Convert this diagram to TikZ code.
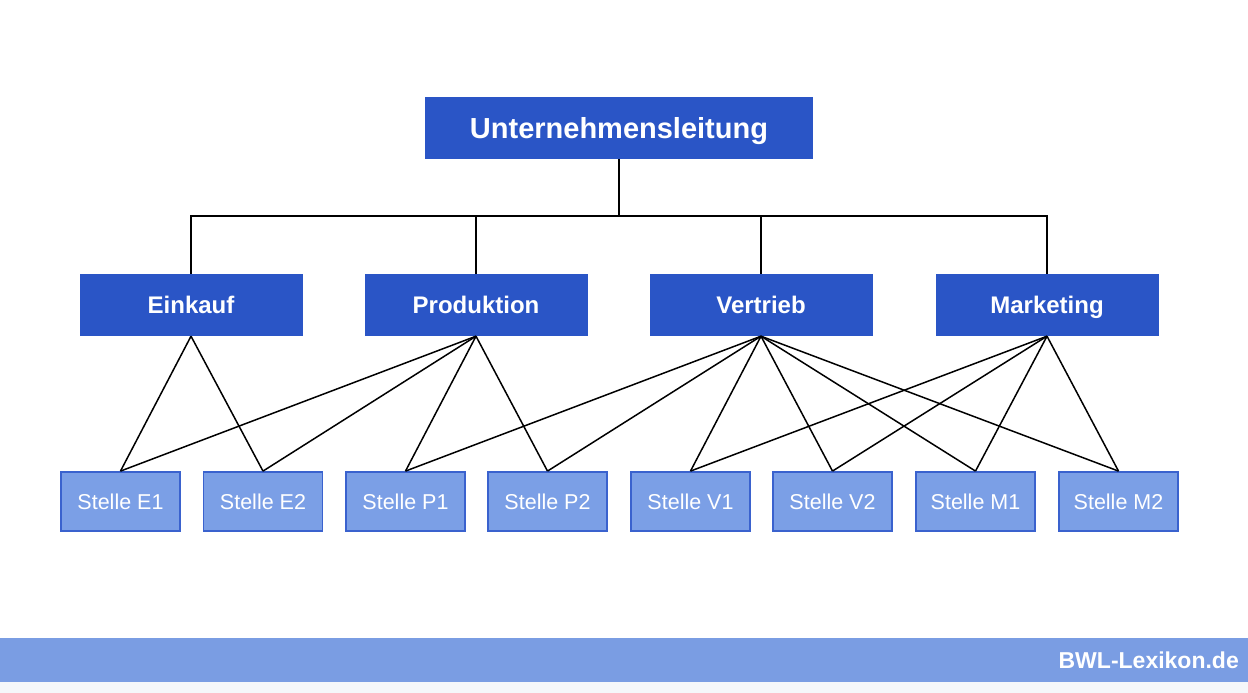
\documentclass[tikz,border=0pt]{standalone}
\usepackage{fontspec}
\setmainfont{Liberation Sans}
\definecolor{dblue}{HTML}{2A55C6}
\definecolor{lblue}{HTML}{7B9FE6}
\definecolor{lborder}{HTML}{3A62CE}
\definecolor{footblue}{HTML}{7A9DE3}
\definecolor{footgray}{HTML}{F5F7FA}
\begin{document}
\begin{tikzpicture}[x=1pt,y=1pt,
  topbox/.style={fill=dblue,draw=none,minimum width=388pt,minimum height=62pt,inner sep=0pt,text=white,text height=20.8pt,text depth=0pt,font=\fontsize{29}{32}\selectfont\bfseries},
  deptbox/.style={fill=dblue,draw=none,minimum width=223pt,minimum height=62pt,inner sep=0pt,text=white,text height=17.2pt,text depth=0pt,font=\fontsize{24}{28}\selectfont\bfseries},
  stellebox/.style={fill=lblue,draw=lborder,line width=1.8pt,minimum width=119pt,minimum height=59pt,inner sep=0pt,text=white,text height=15.4pt,text depth=0pt,font=\fontsize{21.5}{25}\selectfont},
  conn/.style={draw=black,line width=1.5pt},
  footer/.style={text=white,text height=16.4pt,text depth=0pt,font=\fontsize{23}{26}\selectfont\bfseries,anchor=east,inner sep=0pt}]
\useasboundingbox (0,0) rectangle (1248,693);
\fill[white] (0,0) rectangle (1248,693);
\fill[footblue] (0,11) rectangle (1248,55);
\fill[footgray] (0,0) rectangle (1248,11);
\node[footer] (brand) at (1239,33) {BWL-Lexikon.de};

\node[topbox] (top) at (619,565) {Unternehmensleitung};
\node[deptbox] (ein) at (191,388) {Einkauf};
\node[deptbox] (pro) at (476,388) {Produktion};
\node[deptbox] (ver) at (761,388) {Vertrieb};
\node[deptbox] (mar) at (1047,388) {Marketing};

\node[stellebox] (e1) at (120.5,191.5) {Stelle E1};
\node[stellebox] (e2) at (263,191.5) {Stelle E2};
\node[stellebox] (p1) at (405.5,191.5) {Stelle P1};
\node[stellebox] (p2) at (547.5,191.5) {Stelle P2};
\node[stellebox] (v1) at (690.5,191.5) {Stelle V1};
\node[stellebox] (v2) at (832.5,191.5) {Stelle V2};
\node[stellebox] (m1) at (975.5,191.5) {Stelle M1};
\node[stellebox] (m2) at (1118.5,191.5) {Stelle M2};

\coordinate (jl) at (191,477);
\coordinate (jr) at (1047,477);
\draw[conn] (ein.north) -- (jl) -- (jr) -- (mar.north);
\draw[conn] (top.south) -- (top.south |- jl);
\draw[conn] (pro.north) -- (pro.north |- jl);
\draw[conn] (ver.north) -- (ver.north |- jl);

\foreach \d/\s in {ein/e1,ein/e2,pro/e1,pro/e2,pro/p1,pro/p2,ver/p1,ver/p2,ver/v1,ver/v2,ver/m1,ver/m2,mar/v1,mar/v2,mar/m1,mar/m2}
  \draw[conn] (\d.south) -- (\s.north);
\end{tikzpicture}
\end{document}
